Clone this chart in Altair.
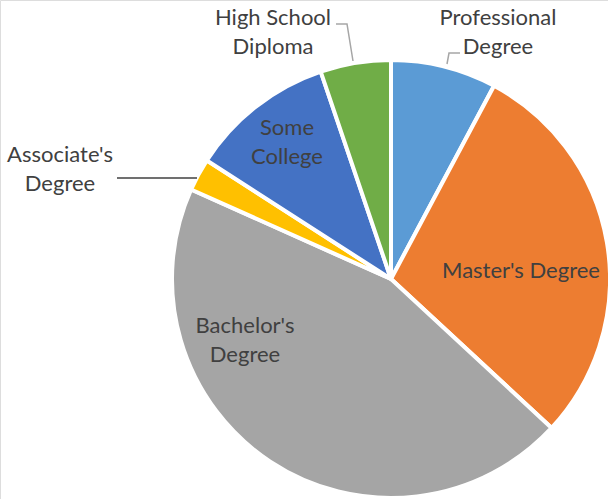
import altair as alt
import pandas as pd

# Data (share of respondents, %)
categories = ["Professional Degree", "Master's Degree", "Bachelor's Degree",
              "Associate's Degree", "Some College", "High School Diploma"]
values = [7.8, 29.1, 44.8, 2.4, 10.7, 5.2]
colors = ["#5B9BD5", "#ED7D31", "#A5A5A5", "#FFC000", "#4472C4", "#70AD47"]

# Label text (as drawn) and layout (position of first line)
label_text = ["Professional\nDegree", "Master's Degree", "Bachelor's\nDegree",
              "Associate's\nDegree", "Some\nCollege", "High School\nDiploma"]
label_x = [498, 521, 245, 60, 287, 273]
label_y = [18, 271, 326, 155, 128, 18]

# Leader lines (annotation layout)
leader_pts = [
    ("hs", 0, 336, 24, "#A6A6A6"), ("hs", 1, 347, 24, "#A6A6A6"), ("hs", 2, 353, 61, "#A6A6A6"),
    ("pr", 0, 447, 64, "#A6A6A6"), ("pr", 1, 449, 53, "#A6A6A6"), ("pr", 2, 460, 53, "#A6A6A6"),
    ("as", 0, 117, 178, "#404040"), ("as", 1, 197, 178, "#404040"),
]

CX, CY, R = 391, 279, 219
W, H = 608, 499

df = pd.DataFrame({"category": categories, "value": values,
                   "order": list(range(len(categories)))})
labels = pd.DataFrame({"text": label_text, "x": label_x, "y": label_y})
leaders = pd.DataFrame(leader_pts, columns=["g", "i", "x", "y", "c"])

pie = alt.Chart(df).mark_arc(outerRadius=R, stroke="white", strokeWidth=4).encode(
    theta=alt.Theta("value:Q", stack=True),
    order=alt.Order("order:Q"),
    color=alt.Color("category:N", scale=alt.Scale(domain=categories, range=colors), legend=None),
    x=alt.value(CX),
    y=alt.value(CY),
)

lines = alt.Chart(leaders).mark_line(strokeWidth=1.5).encode(
    x=alt.X("x:Q", scale=None),
    y=alt.Y("y:Q", scale=None),
    detail="g:N",
    order="i:Q",
    color=alt.Color("c:N", scale=None),
)

text = alt.Chart(labels).mark_text(
    font="Lato", fontSize=22, color="#404040", lineBreak="\n",
    align="center", baseline="middle", lineHeight=29,
).encode(
    x=alt.X("x:Q", scale=None),
    y=alt.Y("y:Q", scale=None),
    text="text:N",
)

chart = alt.layer(pie, lines, text).properties(
    width=W, height=H, autosize=alt.AutoSizeParams(type="none"), padding=0,
).configure_view(stroke=None).configure(background="white")

chart.save("out.html", embed_options={"renderer": "svg", "actions": False})
